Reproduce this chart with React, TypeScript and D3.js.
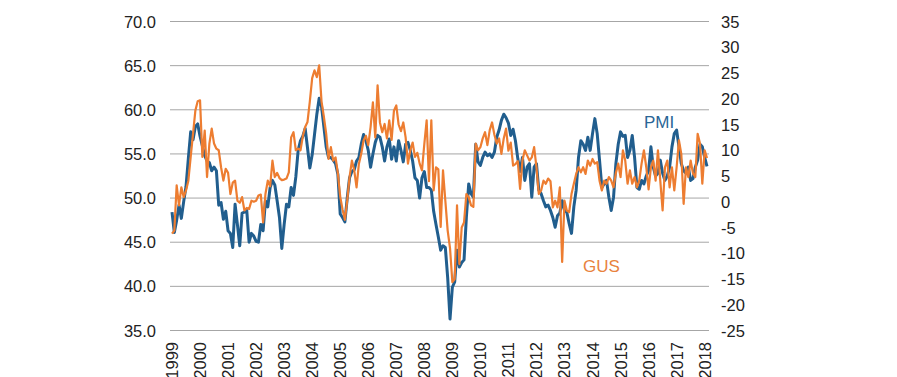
import React from "react";
import * as d3 from "d3";

const years = [1999, 2000, 2001, 2002, 2003, 2004, 2005, 2006, 2007, 2008, 2009, 2010, 2011, 2012, 2013, 2014, 2015, 2016, 2017, 2018];
const leftTicks = [35, 40, 45, 50, 55, 60, 65, 70];
const rightTicks = [-25, -20, -15, -10, -5, 0, 5, 10, 15, 20, 25, 30, 35];

// Monthly values, Jan 1999 - Feb 2018
const pmi = [
  48.4, 46.1, 47.5, 49.2, 47.7, 49.6, 51.3, 54.5, 57.5, 56.6, 58.1, 58.4,
  57.0, 55.9, 54.8, 54.2, 54.0, 53.1, 53.5, 53.1, 49.2, 49.5, 47.6, 48.5,
  46.3, 46.0, 44.4, 49.3, 47.0, 44.6, 48.3, 48.4, 48.6, 45.0, 46.0, 45.7,
  45.1, 45.0, 47.0, 46.3, 49.7, 49.0, 51.2, 52.0, 51.5, 49.7, 47.8, 44.3,
  47.0, 49.3, 49.0, 51.2, 50.3, 52.4, 55.4, 56.5, 57.0, 57.9, 55.7, 53.4,
  54.9, 57.2, 59.5, 61.3, 60.4, 58.1, 55.8, 54.6, 54.6, 54.3, 53.9, 52.7,
  48.2, 47.8, 47.3, 50.0, 52.3, 53.0, 53.2, 54.2, 54.6, 56.1, 57.2, 56.5,
  55.4, 53.5, 55.0, 56.3, 57.1, 56.9, 55.8, 54.2, 55.8, 56.7, 54.4, 55.8,
  54.2, 56.5, 55.4, 54.1, 56.1, 56.3, 55.4, 54.2, 52.3, 52.0, 50.0, 52.3,
  53.0, 51.2, 51.2, 50.9, 48.5, 47.0, 45.6, 44.1, 44.6, 44.4, 41.0, 36.3,
  39.9, 40.5, 44.1, 42.2, 42.7, 43.0, 47.8, 51.6, 50.5, 50.1, 56.1, 54.1,
  53.7, 54.6, 55.2, 54.8, 55.0, 54.6, 55.2, 56.9, 57.7, 58.8, 59.5, 59.1,
  58.5, 57.1, 57.8, 56.5, 54.5, 53.0, 54.6, 52.0, 53.5, 53.9, 50.1, 53.5,
  53.9, 50.9, 50.5, 49.7, 49.0, 49.2, 48.6, 47.8, 46.7, 48.0, 48.3, 49.7,
  48.6, 48.4, 47.1, 46.0, 49.0, 50.9, 54.6, 56.5, 56.1, 55.4, 56.9, 55.4,
  57.3, 59.0, 57.3, 54.3, 51.2, 51.6, 52.0, 50.1, 48.6, 50.1, 53.9, 56.1,
  57.5, 57.0, 57.1, 54.6, 55.4, 57.1, 54.6, 51.2, 51.0, 52.0, 51.6, 52.5,
  53.1, 55.8, 53.5, 52.5, 52.8, 54.3, 52.8, 52.0, 52.5, 53.5, 55.8, 57.3,
  57.7, 55.8, 53.9, 53.1, 52.8, 53.5, 52.0, 52.2, 53.5, 54.3, 56.1, 55.8,
  54.6, 53.6,
];

const gus = [
  -6.2, -5.6, 3.2, -0.7, 2.8, 0.9, 2.2, 4.1, 8.7, 13.2, 17.7, 19.5,
  19.7, 8.7, 13.8, 4.8, 11.3, 14.2, 11.3, 10.3, 10.0, 6.7, 4.1, 6.4,
  5.6, 1.5, 3.7, 4.1, 0.2, -0.2, 0.9, -1.7, -1.2, -1.4, 0.2, 0.0,
  0.2, 1.2, 1.4, -4.0, 1.5, 4.1, 3.0, 8.0, 4.8, 5.6, 4.6, 4.2,
  4.3, 4.5, 5.7, 12.5, 13.5, 10.0, 10.3, 10.0, 12.7, 14.5, 15.5, 19.5,
  24.0, 25.5, 24.2, 26.5, 19.5, 16.5, 13.2, 8.3, 10.6, 8.0, 8.6, 5.5,
  1.0, -1.5, -3.5, 0.2, 4.8, 8.0, 6.1, 2.8, 7.4, 9.3, 11.9, 12.8,
  11.0, 14.5, 19.3, 12.5, 22.6, 15.4, 13.5, 15.1, 12.3, 15.8, 12.0, 17.7,
  18.7, 15.0, 13.7, 15.4, 12.5, 7.4, 10.0, 11.5, 8.7, 9.5, 7.4, 6.1,
  11.2, 15.8, 4.0, 15.8, 2.2, 6.7, 6.3, -4.9, 6.1, 0.2, -5.6, -9.0,
  -15.6, -15.0, -0.7, -12.1, -5.0, -4.0, 1.5, 0.9, -0.7, -1.0, 11.3, 10.0,
  10.6, 12.3, 13.5, 11.0, 13.9, 15.4, 13.0, 11.3, 12.3, 9.3, 12.3, 14.2,
  9.9, 11.5, 7.0, 7.3, 7.9, 2.5, 8.0, 10.0, 9.0, 8.0, 8.6, 10.6,
  6.7, 1.5, 2.2, 4.1, 3.5, 4.5, 4.0, -1.1, 0.2, -1.1, 2.8, -11.7,
  0.2, -1.7, -2.0, 1.5, 3.5, 5.4, 6.7, 5.7, 6.7, 5.4, 8.0, 7.0,
  8.3, 7.4, 7.7, 4.1, 2.2, 4.1, 3.5, 4.8, 4.1, 2.8, 5.6, 7.4,
  4.8, 10.0, 8.0, 3.5, 6.1, 3.5, 4.8, 2.8, 4.1, 7.4, 10.0, 6.7,
  2.4, 6.7, 8.0, 4.1, 10.0, 4.1, -1.7, 6.7, 8.0, 2.8, 6.7, 2.2,
  6.7, 11.9, 9.3, -0.4, 6.7, 4.8, 8.0, 5.5, 4.8, 13.2, 11.3, 3.5,
  10.0, 8.5,
];

const W = 897;
const H = 377;
const FONT = "'Liberation Sans', Arial, sans-serif";
const PMI_COLOR = "#215E8E";
const GUS_COLOR = "#ED7D31";

export default function App() {
  const x = d3.scaleLinear().domain([0, pmi.length - 1]).range([172, 707]);
  const yL = d3.scaleLinear().domain([35, 70]).range([330.5, 21.5]);
  const yR = d3.scaleLinear().domain([-25, 35]).range([330.5, 21.5]);
  const gridX0 = 170;
  const gridX1 = 709;

  const pmiLine = d3.line<number>().x((_, i) => x(i)).y((d) => yL(d));
  const gusLine = d3.line<number>().x((_, i) => x(i)).y((d) => yR(d));

  return (
    <svg
      width={W}
      height={H}
      style={{ position: "absolute", left: 0, top: 0, background: "#fff" }}
      fontFamily={FONT}
    >
      <rect x={0} y={0} width={W} height={H} fill="#fff" />
      {leftTicks.map((t) => (
        <line key={"g" + t} x1={gridX0} x2={gridX1} y1={yL(t)} y2={yL(t)} stroke="#A6A6A6" strokeWidth={1} />
      ))}
      {leftTicks.map((t) => (
        <text key={"l" + t} x={156} y={yL(t)} textAnchor="end" dominantBaseline="central" fontSize={16.5} fill="#222">
          {t.toFixed(1)}
        </text>
      ))}
      {rightTicks.map((t) => (
        <text key={"r" + t} x={721} y={yR(t)} textAnchor="start" dominantBaseline="central" fontSize={16.5} fill="#222">
          {t}
        </text>
      ))}
      {years.map((yr, i) => {
        const px = x(i * 12);
        return (
          <text
            key={"y" + yr}
            transform={`translate(${px},342) rotate(-90)`}
            textAnchor="end"
            dominantBaseline="central"
            fontSize={16.5}
            fill="#222"
          >
            {yr}
          </text>
        );
      })}
      <path d={pmiLine(pmi) || ""} fill="none" stroke={PMI_COLOR} strokeWidth={3} strokeLinejoin="round" />
      <path d={gusLine(gus) || ""} fill="none" stroke={GUS_COLOR} strokeWidth={2.2} strokeLinejoin="round" />
      <text x={644} y={128} fontSize={17} fill="#2A6596">PMI</text>
      <text x={583} y={272} fontSize={17} fill="#E8823E">GUS</text>
    </svg>
  );
}
